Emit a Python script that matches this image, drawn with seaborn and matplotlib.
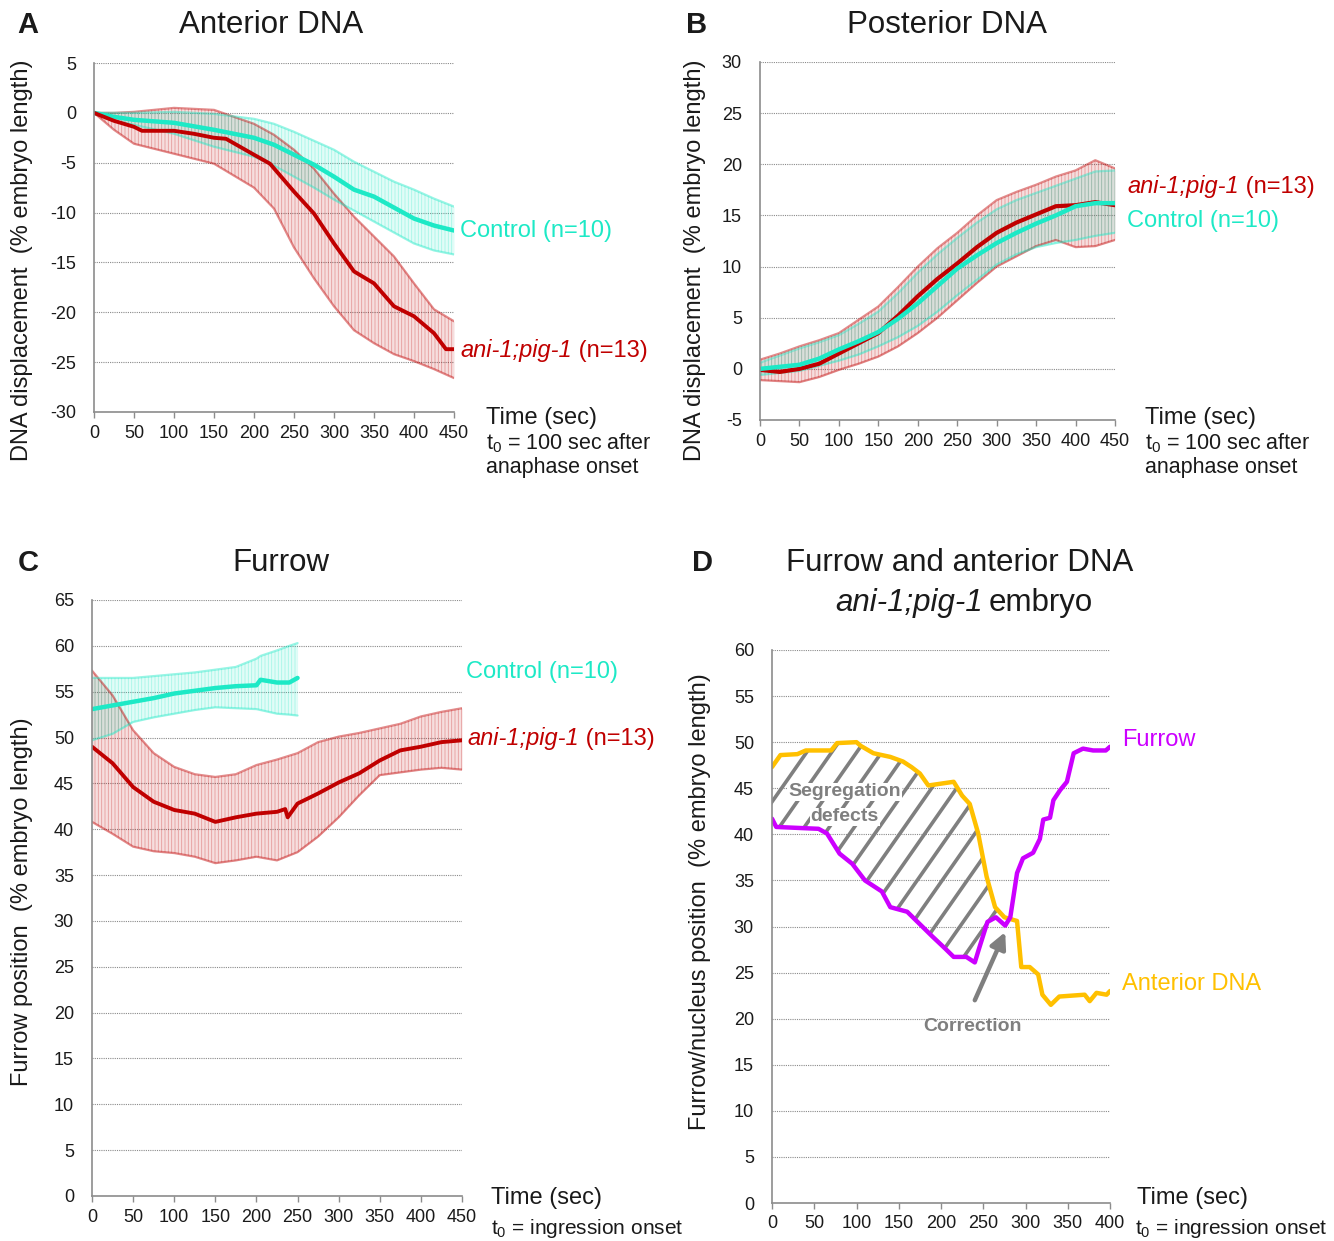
import matplotlib
matplotlib.use("Agg")
import matplotlib.pyplot as plt
import numpy as np
import seaborn as sns

# ---------------- A: anterior DNA ----------------
a_mut_t = [0, 25, 50, 60, 100, 125, 150, 165, 200, 220, 250, 275, 300, 325, 350, 375, 400, 425, 440, 450]
a_mut_mean = [0, -0.8, -1.4, -1.8, -1.8, -2.1, -2.5, -2.6, -4.2, -5.1, -7.9, -10.1, -13.1, -15.9,
              -17.1, -19.4, -20.4, -22.1, -23.7, -23.7]
a_band_t = [0, 25, 50, 100, 150, 200, 225, 250, 275, 300, 325, 350, 375, 400, 425, 450]
a_mut_hi = [0, 0, 0.1, 0.5, 0.3, -1.1, -2.2, -3.7, -5.6, -8.1, -10.4, -12.4, -14.4, -17.1, -19.7, -20.9]
a_mut_lo = [0, -1.7, -3.1, -4.1, -5.1, -7.5, -9.6, -13.5, -16.6, -19.4, -21.8, -23.1, -24.2, -24.9, -25.7, -26.6]
a_ctl_mean = [0, -0.4, -0.7, -1.0, -1.7, -2.5, -3.2, -4.2, -5.2, -6.4, -7.7, -8.4, -9.5, -10.6, -11.3, -11.8]
a_ctl_hi = [0, 0, 0, 0.1, -0.1, -0.6, -1.1, -1.9, -2.8, -3.7, -4.9, -5.9, -6.9, -7.7, -8.6, -9.4]
a_ctl_lo = [0, -0.8, -1.2, -2.1, -3.4, -4.4, -5.3, -6.4, -7.5, -8.7, -9.8, -10.9, -12.0, -13.1, -13.8, -14.2]

# ---------------- B: posterior DNA ----------------
b_t = [0, 25, 50, 75, 100, 125, 150, 175, 200, 225, 250, 275, 300, 325, 350, 375, 400, 425, 450]
b_ctl_mean = [0, 0.2, 0.4, 1.0, 1.9, 2.7, 3.6, 4.9, 6.4, 8.1, 9.8, 11.1, 12.3, 13.3, 14.2, 15.0, 15.9, 16.2, 16.2]
b_mut_mean = [-0.1, -0.3, 0.0, 0.5, 1.5, 2.5, 3.5, 5.2, 7.1, 8.8, 10.3, 11.9, 13.3, 14.3, 15.1, 15.9, 16.0, 16.3, 16.0]
b_mut_hi = [0.9, 1.5, 2.2, 2.8, 3.5, 4.8, 6.1, 8.0, 10.0, 11.8, 13.3, 15.0, 16.5, 17.3, 18.0, 18.8, 19.4, 20.4, 19.6]
b_mut_lo = [-1.1, -1.2, -1.3, -0.8, -0.1, 0.5, 1.2, 2.2, 3.5, 5.0, 6.7, 8.4, 10.0, 11.0, 12.0, 12.6, 11.9, 12.0, 12.6]
b_ctl_hi = [0.6, 1.3, 2.0, 2.6, 3.3, 4.4, 5.6, 7.4, 9.4, 11.2, 12.8, 14.3, 15.6, 16.5, 17.2, 17.9, 18.6, 19.3, 19.4]
b_ctl_lo = [-0.6, -0.4, -0.2, 0.3, 0.8, 1.4, 2.2, 3.1, 4.2, 5.6, 7.2, 8.7, 10.2, 11.2, 11.9, 12.3, 12.6, 13.0, 13.3]

# ---------------- C: furrow ----------------
c_ctl_t = [0, 25, 50, 75, 100, 125, 150, 175, 200, 205, 225, 240, 250]
c_ctl_mean = [53.1, 53.5, 53.9, 54.3, 54.8, 55.1, 55.4, 55.6, 55.7, 56.3, 56.0, 56.0, 56.5]
c_ctl_hi = [56.5, 56.5, 56.5, 56.7, 56.9, 57.1, 57.4, 57.7, 58.6, 58.9, 59.5, 60.0, 60.3]
c_ctl_lo = [49.7, 50.4, 51.7, 52.2, 52.6, 53.0, 53.3, 53.2, 53.1, 53.0, 52.6, 52.5, 52.4]
c_mut_t = [0, 25, 50, 75, 100, 125, 150, 175, 200, 225, 235, 238, 250, 275, 300, 325, 350, 375, 400, 425, 450]
c_mut_mean = [49.0, 47.2, 44.6, 43.0, 42.1, 41.7, 40.8, 41.3, 41.7, 41.9, 42.2, 41.3, 42.8, 43.9, 45.1,
              46.1, 47.5, 48.6, 49.0, 49.5, 49.7]
c_band_t = [0, 25, 50, 75, 100, 125, 150, 175, 200, 225, 250, 275, 300, 325, 350, 375, 400, 425, 450]
c_mut_hi = [57.3, 54.6, 50.8, 48.3, 46.8, 46.0, 45.7, 46.0, 47.0, 47.6, 48.3, 49.5, 50.1, 50.5, 51.0, 51.5, 52.3, 52.8, 53.2]
c_mut_lo = [40.8, 39.5, 38.1, 37.6, 37.4, 37.0, 36.3, 36.6, 37.0, 36.6, 37.5, 39.2, 41.3, 43.7, 45.9, 46.2, 46.5, 46.7, 46.5]

# ---------------- D: furrow and anterior DNA, single embryo ----------------
d_dna_t = [0, 10, 30, 40, 70, 77, 100, 105, 120, 140, 155, 165, 175, 185, 215, 225, 234, 244, 254, 264,
           275, 290, 295, 305, 315, 320, 330, 340, 370, 376, 384, 396, 400]
d_dna = [47.3, 48.6, 48.7, 49.1, 49.1, 49.9, 50.0, 49.6, 48.8, 48.4, 47.9, 47.3, 46.6, 45.3, 45.7, 44.2,
         43.3, 40.1, 35.4, 32.1, 31.0, 30.6, 25.6, 25.6, 24.8, 22.6, 21.5, 22.4, 22.6, 21.9, 22.8, 22.6, 23.0]
d_fur_t = [0, 5, 55, 65, 80, 95, 110, 130, 140, 160, 170, 190, 205, 215, 230, 240, 245, 255, 265, 276,
           282, 290, 297, 309, 317, 321, 329, 333, 341, 349, 357, 368, 380, 395, 400]
d_fur = [41.7, 40.8, 40.6, 40.1, 37.9, 36.8, 35.0, 33.8, 32.1, 31.6, 30.7, 28.9, 27.6, 26.7, 26.7, 26.1,
         27.6, 30.5, 31.0, 30.1, 31.0, 35.8, 37.4, 38.0, 39.5, 41.6, 41.8, 43.7, 44.8, 45.7, 48.8, 49.3,
         49.1, 49.1, 49.5]
d_cross_t = 282

CYAN = "#1DE9C6"
RED = "#C00000"
MAGENTA = "#CC00FF"
GOLD = "#FFC000"
GRAY = "#7F7F7F"
TXT = "#1a1a1a"

W, H = 1334, 1241

sns.set_theme(style="white")
plt.rcParams["font.family"] = ["Liberation Sans", "DejaVu Sans"]
plt.rcParams["mathtext.fontset"] = "custom"
plt.rcParams["mathtext.rm"] = "Liberation Sans"
plt.rcParams["mathtext.it"] = "Liberation Sans:italic"
plt.rcParams["hatch.linewidth"] = 0.6
plt.rcParams["axes.unicode_minus"] = False

fig = plt.figure(figsize=(W / 100, H / 100), dpi=100)


def fx(x):
    return x / W


def fy(y):
    return 1 - y / H


def make_ax(left, top, right, bottom):
    return fig.add_axes([fx(left), fy(bottom), (right - left) / W, (bottom - top) / H])


def style(ax, xmax, ymin, ymax, ystep):
    ax.set_xlim(0, xmax)
    ax.set_ylim(ymin, ymax)
    ax.set_xticks(np.arange(0, xmax + 1, 50))
    ax.set_yticks(np.arange(ymin, ymax + 1, ystep))
    ax.grid(False)
    ax.grid(axis="y", color="#8a8a8a", linestyle=(0, (1, 1)), linewidth=0.8)
    ax.set_axisbelow(True)
    for s in ["top", "right"]:
        ax.spines[s].set_visible(False)
    for s in ["left", "bottom"]:
        ax.spines[s].set_color("#8c8c8c")
        ax.spines[s].set_linewidth(1.2)
    ax.tick_params(axis="x", length=4, width=1, color="#8c8c8c", direction="out",
                   labelsize=13, pad=5, labelcolor=TXT, bottom=True)
    ax.tick_params(axis="y", length=0, labelsize=13, pad=13, labelcolor=TXT)
    ax.set_xlabel("")
    ax.set_ylabel("")


def band(ax, t, lo, hi, color):
    ax.fill_between(t, lo, hi, facecolor=color, alpha=0.13, linewidth=0)
    ax.fill_between(t, lo, hi, facecolor="none", edgecolor=color, alpha=0.30,
                    hatch="|||||", linewidth=0)
    for edge in (lo, hi):
        sns.lineplot(x=t, y=edge, ax=ax, color=color, alpha=0.45, linewidth=1.6,
                     estimator=None, sort=False)


def mean_line(ax, t, y, color, lw=3):
    sns.lineplot(x=t, y=y, ax=ax, color=color, linewidth=lw, estimator=None, sort=False)


def mixed_label(ax, x, y, color, size=17):
    t1 = fig.text(fx(x), fy(y), "ani-1;pig-1", color=color, fontsize=size, style="italic",
                  ha="left", va="center")
    ax.annotate(" (n=13)", xy=(1, 0), xycoords=t1, ha="left", va="bottom",
                color=color, fontsize=size, annotation_clip=False)


def label(x, y, s, **kw):
    kw.setdefault("fontsize", 17)
    kw.setdefault("color", TXT)
    return fig.text(fx(x), fy(y), s, **kw)


# ---------------- panel A ----------------
ax = make_ax(94, 63, 454, 412)
style(ax, 450, -30, 5, 5)
band(ax, a_band_t, a_mut_lo, a_mut_hi, RED)
band(ax, a_band_t, a_ctl_lo, a_ctl_hi, CYAN)
mean_line(ax, a_band_t, a_ctl_mean, CYAN, 3.2)
mean_line(ax, a_mut_t, a_mut_mean, RED, 2.8)
label(460, 231, "Control (n=10)", color=CYAN, va="center")
mixed_label(ax, 460, 350, RED)
label(271, 25, "Anterior DNA", fontsize=22.5, ha="center", va="center")
label(28, 25, "A", fontsize=21, fontweight="bold", ha="center", va="center")
label(22, 260, "DNA displacement  (% embryo length)", rotation=90, ha="center", va="center")
label(486, 418, "Time (sec)", va="center")
label(486, 443, "t$_0$ = 100 sec after", fontsize=15.5, va="center")
label(486, 468, "anaphase onset", fontsize=15.5, va="center")

# ---------------- panel B ----------------
ax = make_ax(760, 62, 1115, 420)
style(ax, 450, -5, 30, 5)
band(ax, b_t, b_mut_lo, b_mut_hi, RED)
band(ax, b_t, b_ctl_lo, b_ctl_hi, CYAN)
mean_line(ax, b_t, b_mut_mean, RED, 3.0)
mean_line(ax, b_t, b_ctl_mean, CYAN, 3.2)
mixed_label(ax, 1127, 187, RED)
label(1127, 221, "Control (n=10)", color=CYAN, va="center")
label(947, 25, "Posterior DNA", fontsize=22.5, ha="center", va="center")
label(697, 25, "B", fontsize=21, fontweight="bold", ha="center", va="center")
label(695, 260, "DNA displacement  (% embryo length)", rotation=90, ha="center", va="center")
label(1145, 418, "Time (sec)", va="center")
label(1145, 443, "t$_0$ = 100 sec after", fontsize=15.5, va="center")
label(1145, 468, "anaphase onset", fontsize=15.5, va="center")

# ---------------- panel C ----------------
ax = make_ax(92, 600, 462, 1196)
style(ax, 450, 0, 65, 5)
band(ax, c_band_t, c_mut_lo, c_mut_hi, RED)
band(ax, c_ctl_t, c_ctl_lo, c_ctl_hi, CYAN)
mean_line(ax, c_ctl_t, c_ctl_mean, CYAN, 3.2)
mean_line(ax, c_mut_t, c_mut_mean, RED, 2.8)
label(466, 672, "Control (n=10)", color=CYAN, va="center")
mixed_label(ax, 467, 739, RED)
label(281, 563, "Furrow", fontsize=22.5, ha="center", va="center")
label(28, 563, "C", fontsize=21, fontweight="bold", ha="center", va="center")
label(22, 902, "Furrow position  (% embryo length)", rotation=90, ha="center", va="center")
label(491, 1198, "Time (sec)", va="center")
label(491, 1229, "t$_0$ = ingression onset", fontsize=15, va="center")

# ---------------- panel D ----------------
ax = make_ax(772, 650, 1110, 1203)
style(ax, 400, 0, 60, 5)

# hatched region between the two traces, up to where they cross
dna_t = np.array(d_dna_t, dtype=float)
fur_t = np.array(d_fur_t, dtype=float)
m1 = dna_t <= d_cross_t
m2 = fur_t <= d_cross_t
poly_x = np.concatenate([dna_t[m1], fur_t[m2][::-1]])
poly_y = np.concatenate([np.array(d_dna)[m1], np.array(d_fur)[m2][::-1]])
region = ax.fill(poly_x, poly_y, facecolor="none", edgecolor="none")[0]
slope = 0.874
for c in np.arange(-1.2, 1.0, 0.074):
    ln, = ax.plot([c, c + 1 / slope], [0, 1], transform=ax.transAxes, color=GRAY,
                  linewidth=2.6, solid_capstyle="butt", zorder=1)
    ln.set_clip_path(region)

mean_line(ax, d_dna_t, d_dna, GOLD, 3.2)
mean_line(ax, d_fur_t, d_fur, MAGENTA, 3.2)

for txt, yv in (("Segregation", 44.6), ("defects", 41.9)):
    ax.text(86, yv, txt, color=GRAY, fontsize=14, fontweight="bold", ha="center", va="center",
            zorder=5, bbox=dict(facecolor="white", edgecolor="none", pad=0.5))
ax.annotate("", xy=(276, 29.4), xytext=(240, 22.0),
            arrowprops=dict(arrowstyle="-|>,head_width=0.4,head_length=0.8",
                            color=GRAY, lw=3.2, shrinkA=0, shrinkB=0))
ax.text(237, 19.2, "Correction", color=GRAY, fontsize=14, fontweight="bold",
        ha="center", va="center")

label(1122, 740, "Furrow", color=MAGENTA, va="center")
label(1122, 984, "Anterior DNA", color=GOLD, va="center")
label(960, 563, "Furrow and anterior DNA", fontsize=22.5, ha="center", va="center")
label(983, 603, "ani-1;pig-1", fontsize=22.5, style="italic", ha="right", va="center")
label(989, 603, "embryo", fontsize=22.5, ha="left", va="center")
label(702, 563, "D", fontsize=21, fontweight="bold", ha="center", va="center")
label(700, 902, "Furrow/nucleus position  (% embryo length)", rotation=90, ha="center", va="center")
label(1137, 1198, "Time (sec)", va="center")
label(1135, 1229, "t$_0$ = ingression onset", fontsize=15, va="center")

fig.savefig("out.png", dpi=100, facecolor="white")
